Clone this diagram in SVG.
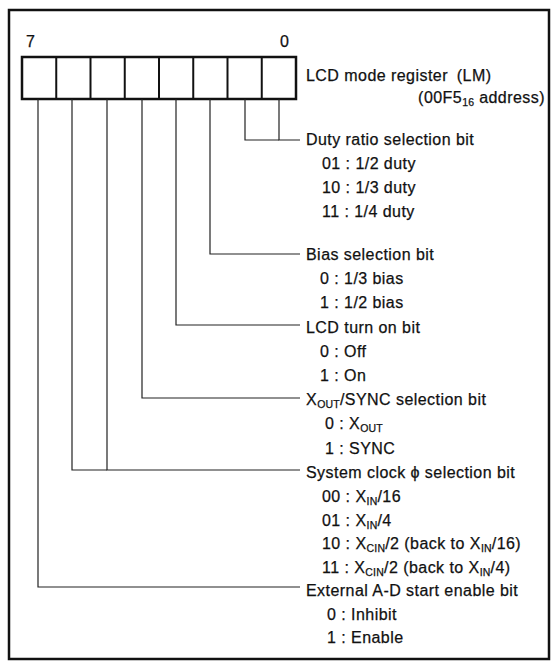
<svg xmlns="http://www.w3.org/2000/svg" width="556" height="661" viewBox="0 0 556 661">
<style>
text{font-family:"Liberation Sans",Arial,sans-serif;font-size:16px;fill:#111;letter-spacing:0.45px;stroke:#111;stroke-width:0.25}
.sub{font-size:10.5px;letter-spacing:0.2px}
.frame{fill:none;stroke:#111;stroke-width:2.5}
.reg{fill:#fff;stroke:#111;stroke-width:2.5}
.div{stroke:#111;stroke-width:2}
.conn{fill:none;stroke:#222;stroke-width:1.2}
</style>
<rect class="frame" x="9" y="10" width="540" height="649"/>
<g id="register">
<text x="26" y="47">7</text>
<text x="280" y="47">0</text>
<rect class="reg" x="22" y="57" width="274" height="42"/>
<line class="div" x1="56.25" y1="57" x2="56.25" y2="99"/>
<line class="div" x1="90.5" y1="57" x2="90.5" y2="99"/>
<line class="div" x1="124.75" y1="57" x2="124.75" y2="99"/>
<line class="div" x1="159" y1="57" x2="159" y2="99"/>
<line class="div" x1="193.25" y1="57" x2="193.25" y2="99"/>
<line class="div" x1="227.5" y1="57" x2="227.5" y2="99"/>
<line class="div" x1="261.75" y1="57" x2="261.75" y2="99"/>
<text x="306" y="81">LCD mode register <tspan dx="4">(LM)</tspan></text>
<text x="545" y="103" text-anchor="end">(00F5<tspan class="sub" dy="3">16</tspan><tspan dy="-3"> address)</tspan></text>
</g>
<g id="connectors">
<polyline class="conn" points="279,99 279,140 300,140"/>
<polyline class="conn" points="245,99 245,140 279,140"/>
<polyline class="conn" points="210,99 210,254 300,254"/>
<polyline class="conn" points="176,99 176,325 300,325"/>
<polyline class="conn" points="142,99 142,398 300,398"/>
<polyline class="conn" points="107,99 107,470 300,470"/>
<polyline class="conn" points="72,99 72,470 107,470"/>
<polyline class="conn" points="38,99 38,587 300,587"/>
</g>
<g id="duty">
<text x="306" y="145">Duty ratio selection bit</text>
<text x="322" y="169">01 : 1/2 duty</text>
<text x="322" y="193">10 : 1/3 duty</text>
<text x="322" y="217">11 : 1/4 duty</text>
</g>
<g id="bias">
<text x="306" y="260">Bias selection bit</text>
<text x="320" y="284">0 : 1/3 bias</text>
<text x="320" y="308">1 : 1/2 bias</text>
</g>
<g id="lcdon">
<text x="306" y="333">LCD turn on bit</text>
<text x="320" y="357">0 : Off</text>
<text x="320" y="381">1 : On</text>
</g>
<g id="xout">
<text x="306" y="405">X<tspan class="sub" dy="3">OUT</tspan><tspan dy="-3">/SYNC selection bit</tspan></text>
<text x="325" y="429">0 : X<tspan class="sub" dy="3">OUT</tspan></text>
<text x="325" y="454">1 : SYNC</text>
</g>
<g id="sysclk">
<text x="306" y="478">System clock ϕ selection bit</text>
<text x="322" y="502">00 : X<tspan class="sub" dy="3">IN</tspan><tspan dy="-3">/16</tspan></text>
<text x="322" y="526">01 : X<tspan class="sub" dy="3">IN</tspan><tspan dy="-3">/4</tspan></text>
<text x="322" y="549">10 : X<tspan class="sub" dy="3">CIN</tspan><tspan dy="-3">/2 (back to X</tspan><tspan class="sub" dy="3">IN</tspan><tspan dy="-3">/16)</tspan></text>
<text x="322" y="573">11 : X<tspan class="sub" dy="3">CIN</tspan><tspan dy="-3">/2 (back to X</tspan><tspan class="sub" dy="3">IN</tspan><tspan dy="-3">/4)</tspan></text>
</g>
<g id="extad">
<text x="306" y="596">External A-D start enable bit</text>
<text x="327" y="620">0 : Inhibit</text>
<text x="327" y="643">1 : Enable</text>
</g>
</svg>
